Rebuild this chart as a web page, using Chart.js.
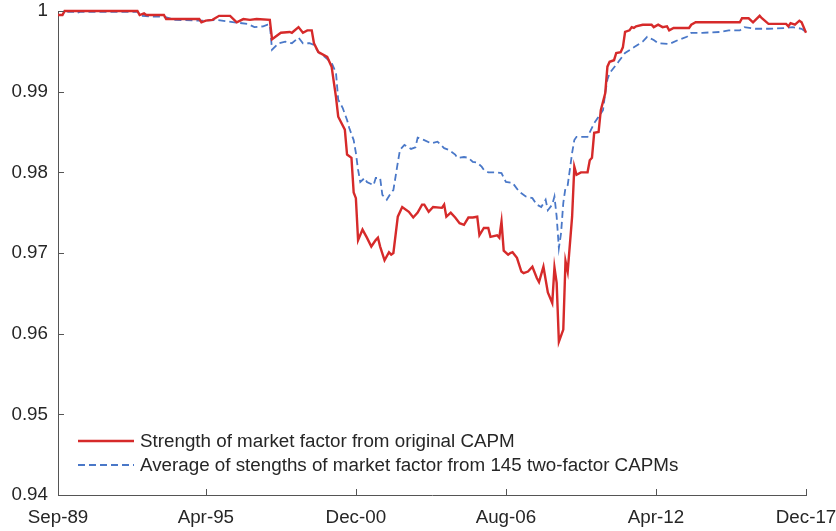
<!DOCTYPE html>
<html>
<head>
<meta charset="utf-8">
<script src="https://cdn.jsdelivr.net/npm/chart.js@4.4.1/dist/chart.umd.min.js"></script>
<style>
  html, body { margin: 0; padding: 0; background: #ffffff; }
  #wrap { width: 836px; height: 531px; }
</style>
</head>
<body>
<div id="wrap"><canvas id="chart" width="836" height="531"></canvas></div>
<script>
// Months are counted from Sep-89 (0) to Dec-17 (339)
const tickMonths = [0, 67, 135, 203, 271, 339];
const tickLabels = ["Sep-89", "Apr-95", "Dec-00", "Aug-06", "Apr-12", "Dec-17"];

// Strength of market factor from original CAPM
const capmMonths = [0, 2, 3, 36, 37, 39, 40, 48, 49, 64, 65, 67, 70, 73, 78, 81, 84, 87, 90, 96,
  97, 101, 105, 106, 109, 111, 113, 115, 116, 118, 122, 124, 126, 127, 130, 131, 133, 134, 135, 136,
  138, 140, 142, 144, 145, 146, 148, 150, 151, 152, 154, 156, 159, 161, 163, 165, 166, 168, 170, 174,
  175, 176, 178, 180, 182, 184, 186, 188, 190, 191, 193, 195, 196, 199, 200, 201, 202, 204, 205, 206,
  208, 210, 211, 213, 215, 217, 218, 220, 222, 224, 225, 226, 227, 229, 230, 231, 233, 234, 235, 237,
  240, 241, 242, 243, 245, 246, 248, 249, 250, 252, 253, 255, 256, 257, 259, 260, 261, 262, 265, 269,
  270, 272, 274, 276, 277, 279, 286, 287, 289, 309, 310, 313, 315, 318, 319, 322, 330, 331, 332, 334,
  336, 337, 339];
const capmValues = [0.9995, 0.9995, 1.0000, 1.0000, 0.9995, 0.9997, 0.9995, 0.9995, 0.9990, 0.9990,
  0.9986, 0.9988, 0.9989, 0.9994, 0.9994, 0.9986, 0.9990, 0.9989, 0.9990, 0.9989,
  0.9965, 0.9973, 0.9974, 0.9973, 0.9980, 0.9973, 0.9976, 0.9976, 0.9960, 0.9949,
  0.9943, 0.9931, 0.9893, 0.9869, 0.9853, 0.9822, 0.9818, 0.9775, 0.9768, 0.9716,
  0.9729, 0.9719, 0.9708, 0.9716, 0.9719, 0.9708, 0.9691, 0.9701, 0.9698, 0.9700,
  0.9745, 0.9757, 0.9751, 0.9744, 0.9750, 0.9760, 0.9760, 0.9751, 0.9757, 0.9756,
  0.9760, 0.9745, 0.9750, 0.9744, 0.9737, 0.9735, 0.9744, 0.9744, 0.9745, 0.9722,
  0.9731, 0.9731, 0.9720, 0.9722, 0.9719, 0.9739, 0.9703, 0.9698, 0.9700, 0.9701,
  0.9694, 0.9677, 0.9675, 0.9677, 0.9683, 0.9669, 0.9664, 0.9683, 0.9651, 0.9638,
  0.9682, 0.9663, 0.9590, 0.9605, 0.9690, 0.9677, 0.9745, 0.9807, 0.9797, 0.9800,
  0.9800, 0.9815, 0.9818, 0.9849, 0.9850, 0.9877, 0.9898, 0.9931, 0.9937, 0.9939,
  0.9948, 0.9949, 0.9955, 0.9974, 0.9976, 0.9980, 0.9979, 0.9981, 0.9983, 0.9983,
  0.9980, 0.9983, 0.9980, 0.9981, 0.9976, 0.9979, 0.9979, 0.9983, 0.9986, 0.9986,
  0.9991, 0.9991, 0.9986, 0.9994, 0.9991, 0.9984, 0.9984, 0.9981, 0.9985, 0.9983,
  0.9988, 0.9986, 0.9973];

// Average of strengths from 145 two-factor CAPMs
const avgMonths = [0, 2, 3, 7, 8, 10, 36, 38, 44, 48, 53, 65, 72, 80, 86, 89, 93, 95, 96, 97,
  100, 103, 106, 109, 111, 114, 116, 118, 121, 124, 126, 127, 129, 131, 132, 134, 135, 136, 137, 139,
  140, 143, 144, 146, 147, 149, 151, 152, 154, 155, 157, 160, 162, 163, 166, 169, 172, 175, 177, 180,
  181, 184, 186, 188, 190, 192, 193, 195, 198, 201, 203, 206, 209, 212, 215, 217, 219, 221, 222, 224,
  225, 226, 227, 228, 229, 230, 231, 233, 234, 235, 240, 243, 245, 247, 248, 249, 250, 254, 257, 261,
  265, 267, 270, 272, 277, 281, 285, 287, 292, 300, 304, 309, 311, 316, 322, 330, 333, 337, 339];
const avgValues = [0.9995, 0.9995, 0.9999, 0.9999, 0.9997, 0.9999, 0.9999, 0.9994, 0.9993, 0.9993,
  0.9989, 0.9988, 0.9989, 0.9986, 0.9984, 0.9980, 0.9981, 0.9983, 0.9983, 0.9952,
  0.9960, 0.9962, 0.9960, 0.9967, 0.9960, 0.9960, 0.9958, 0.9949, 0.9943, 0.9936,
  0.9923, 0.9890, 0.9880, 0.9865, 0.9855, 0.9840, 0.9824, 0.9803, 0.9788, 0.9793,
  0.9788, 0.9784, 0.9793, 0.9793, 0.9772, 0.9766, 0.9775, 0.9778, 0.9812, 0.9828,
  0.9834, 0.9829, 0.9831, 0.9843, 0.9840, 0.9836, 0.9838, 0.9830, 0.9828, 0.9822,
  0.9818, 0.9819, 0.9818, 0.9813, 0.9812, 0.9807, 0.9803, 0.9800, 0.9800, 0.9799,
  0.9788, 0.9787, 0.9776, 0.9770, 0.9768, 0.9760, 0.9757, 0.9766, 0.9753, 0.9760,
  0.9770, 0.9745, 0.9706, 0.9725, 0.9762, 0.9781, 0.9784, 0.9824, 0.9840, 0.9844,
  0.9844, 0.9861, 0.9869, 0.9877, 0.9898, 0.9915, 0.9923, 0.9937, 0.9948, 0.9955,
  0.9962, 0.9968, 0.9964, 0.9960, 0.9959, 0.9964, 0.9968, 0.9973, 0.9973, 0.9974,
  0.9976, 0.9976, 0.9980, 0.9978, 0.9978, 0.9979, 0.9980, 0.9978, 0.9974];

const seriesNames = [
  "Strength of market factor from original CAPM",
  "Average of stengths of market factor from 145 two-factor CAPMs"
];
const redColor = "#d62a2a";
const blueColor = "#4a78c8";
const fontFamily = "'Liberation Sans', Arial, Helvetica, sans-serif";
const fontSize = 18.8;

function toPoints(months, values) {
  return months.map((m, i) => ({ x: m, y: values[i] }));
}

// Short tick marks pointing into the plot, as in the original figure
const innerTicks = {
  id: "innerTicks",
  afterDraw(chart) {
    const { ctx, chartArea, scales } = chart;
    ctx.save();
    ctx.strokeStyle = "#555555";
    ctx.lineWidth = 1;
    tickMonths.forEach((m) => {
      const px = Math.round(scales.x.getPixelForValue(m)) + 0.5;
      ctx.beginPath();
      ctx.moveTo(px, chartArea.bottom);
      ctx.lineTo(px, chartArea.bottom - 6);
      ctx.stroke();
    });
    scales.y.ticks.forEach((t) => {
      const py = Math.round(scales.y.getPixelForValue(t.value)) + 0.5;
      ctx.beginPath();
      ctx.moveTo(chartArea.left, py);
      ctx.lineTo(chartArea.left + 6, py);
      ctx.stroke();
    });
    ctx.restore();
  }
};

// Legend sitting inside the lower-left corner of the plot
const innerLegend = {
  id: "innerLegend",
  afterDraw(chart) {
    const { ctx, chartArea } = chart;
    const x0 = chartArea.left + 20;
    const rows = [chartArea.bottom - 54, chartArea.bottom - 30];
    ctx.save();
    ctx.font = fontSize + "px " + fontFamily;
    ctx.textBaseline = "middle";
    ctx.fillStyle = "#262626";
    chart.data.datasets.forEach((ds, i) => {
      ctx.beginPath();
      ctx.strokeStyle = ds.borderColor;
      ctx.lineWidth = ds.borderWidth;
      ctx.setLineDash(ds.borderDash || []);
      ctx.moveTo(x0, rows[i]);
      ctx.lineTo(x0 + 56, rows[i]);
      ctx.stroke();
      ctx.setLineDash([]);
      ctx.fillText(ds.label, x0 + 62, rows[i] + 1);
    });
    ctx.restore();
  }
};

new Chart(document.getElementById("chart"), {
  type: "line",
  data: {
    datasets: [
      {
        label: seriesNames[0],
        data: toPoints(capmMonths, capmValues),
        borderColor: redColor,
        borderWidth: 2.4,
        pointRadius: 0,
        tension: 0,
        clip: 4
      },
      {
        label: seriesNames[1],
        data: toPoints(avgMonths, avgValues),
        borderColor: blueColor,
        borderWidth: 1.8,
        borderDash: [7, 4],
        pointRadius: 0,
        tension: 0,
        clip: 4
      }
    ]
  },
  options: {
    responsive: false,
    animation: false,
    devicePixelRatio: 1,
    layout: { padding: { top: 11, right: 30, left: 0, bottom: 0 } },
    plugins: {
      legend: { display: false },
      tooltip: { enabled: false }
    },
    scales: {
      x: {
        type: "linear",
        min: 0,
        max: 339,
        afterBuildTicks(scale) {
          scale.ticks = tickMonths.map((m) => ({ value: m }));
        },
        afterFit(scale) {
          scale.height = 36;
          scale.paddingLeft = 0;
          scale.paddingRight = 0;
        },
        ticks: {
          autoSkip: false,
          maxRotation: 0,
          padding: 12,
          color: "#262626",
          font: { family: fontFamily, size: fontSize },
          callback: (value) => tickLabels[tickMonths.indexOf(value)]
        },
        grid: { display: false, drawTicks: false },
        border: { display: true, color: "#555555", width: 1 }
      },
      y: {
        min: 0.94,
        max: 1,
        afterFit(scale) {
          scale.width = 58;
          scale.paddingTop = 0;
          scale.paddingBottom = 0;
        },
        ticks: {
          stepSize: 0.01,
          padding: 10,
          color: "#262626",
          font: { family: fontFamily, size: fontSize },
          callback: (value) => (Math.abs(value - 1) < 1e-9 ? "1" : value.toFixed(2))
        },
        grid: { display: false, drawTicks: false },
        border: { display: true, color: "#555555", width: 1 }
      }
    }
  },
  plugins: [innerTicks, innerLegend]
});
</script>
</body>
</html>
